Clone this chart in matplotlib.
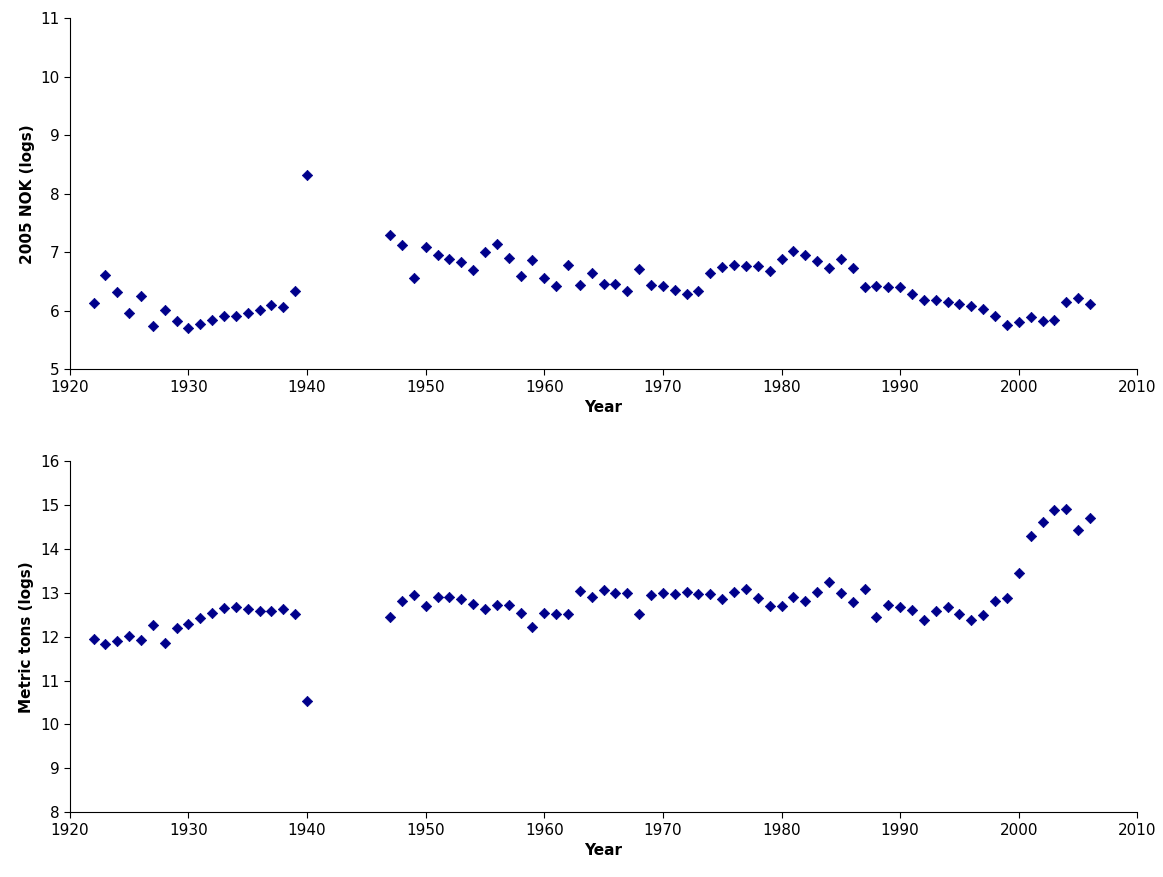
import matplotlib
matplotlib.use("Agg")
import matplotlib.pyplot as plt

years = [1922,1923,1924,1925,1926,1927,1928,1929,1930,1931,1932,1933,1934,1935,1936,1937,1938,1939,1940,
         1947,1948,1949,1950,1951,1952,1953,1954,1955,1956,1957,1958,1959,1960,1961,1962,1963,1964,1965,1966,
         1967,1968,1969,1970,1971,1972,1973,1974,1975,1976,1977,1978,1979,1980,1981,1982,1983,1984,1985,1986,
         1987,1988,1989,1990,1991,1992,1993,1994,1995,1996,1997,1998,1999,2000,2001,2002,2003,2004,2005,2006]
nok = [6.13,6.61,6.32,5.96,6.26,5.74,6.01,5.82,5.70,5.77,5.84,5.91,5.91,5.96,6.01,6.09,6.06,6.33,8.32,
       7.29,7.12,6.56,7.09,6.95,6.88,6.83,6.69,7.00,7.15,6.90,6.59,6.86,6.56,6.42,6.78,6.44,6.64,6.45,6.45,
       6.33,6.71,6.44,6.42,6.35,6.28,6.33,6.64,6.74,6.78,6.76,6.76,6.68,6.88,7.02,6.95,6.85,6.73,6.88,6.73,
       6.40,6.42,6.40,6.40,6.28,6.18,6.18,6.15,6.11,6.08,6.03,5.91,5.75,5.80,5.89,5.82,5.84,6.15,6.21,6.11]
tons = [11.94,11.83,11.90,12.01,11.92,12.26,11.85,12.19,12.28,12.42,12.54,12.65,12.67,12.63,12.58,12.58,12.63,12.51,10.53,
        12.44,12.81,12.95,12.70,12.90,12.90,12.85,12.74,12.63,12.72,12.72,12.54,12.22,12.54,12.51,12.51,13.04,12.90,13.06,12.99,
        12.99,12.51,12.95,12.99,12.97,13.01,12.97,12.97,12.85,13.01,13.08,12.88,12.70,12.70,12.90,12.81,13.01,13.24,12.99,12.79,
        13.08,12.44,12.72,12.67,12.60,12.38,12.58,12.67,12.51,12.38,12.49,12.81,12.88,13.45,14.29,14.61,14.88,14.91,14.43,14.70]

fig = plt.figure(figsize=(11.63, 8.77), dpi=100)
ax1 = fig.add_axes([0.060, 0.579, 0.918, 0.400])
ax2 = fig.add_axes([0.060, 0.074, 0.918, 0.400])
for ax, vals, lo, hi, lab in [(ax1, nok, 5, 11, "2005 NOK (logs)"), (ax2, tons, 8, 16, "Metric tons (logs)")]:
    ax.scatter(years, vals, marker="D", s=28, color="#00008B", edgecolors="#00008B", linewidths=0.5, zorder=3)
    ax.set_xlim(1920, 2010)
    ax.set_ylim(lo, hi)
    ax.set_xticks(range(1920, 2011, 10))
    ax.set_yticks(range(lo, hi + 1))
    ax.spines["top"].set_visible(False)
    ax.spines["right"].set_visible(False)
    ax.tick_params(labelsize=11, direction="out", length=4)
    ax.set_ylabel(lab, fontsize=11, fontweight="bold")
    ax.set_xlabel("Year", fontsize=11, fontweight="bold")

fig.savefig("out.png", dpi=100)
